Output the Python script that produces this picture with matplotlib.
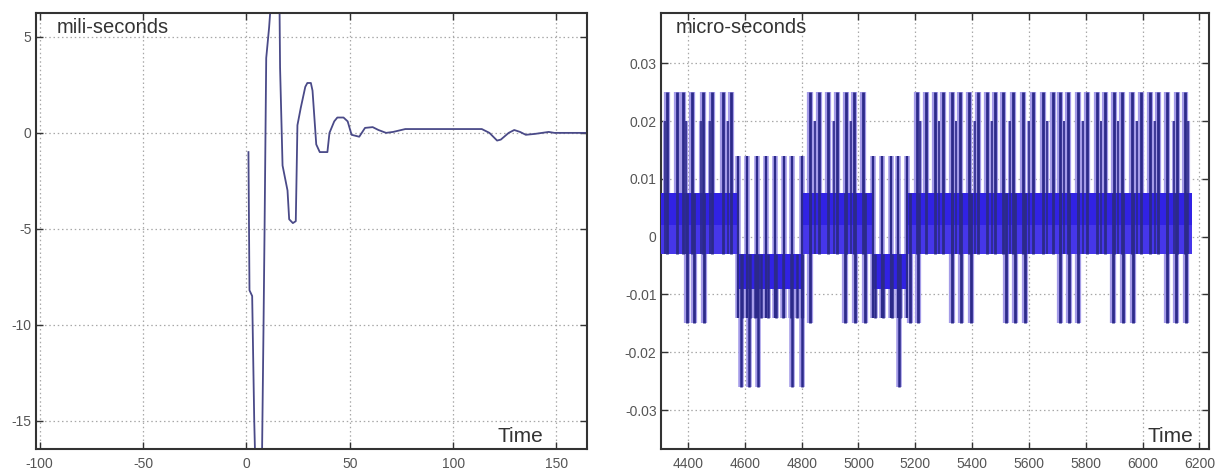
import matplotlib
matplotlib.use('Agg')
import matplotlib.pyplot as plt

plt.rcParams['font.family'] = ['Liberation Sans', 'DejaVu Sans']
plt.rcParams['axes.unicode_minus'] = False

# ---------------- left panel: mili-seconds ----------------
ms_time = [1.0, 1.5, 2.8, 3.8, 4.5, 5.5, 7.0, 7.6, 8.3, 8.8, 9.6, 11.0, 12.0, 14.0,
           16.0, 16.3, 17.5, 19.9, 20.7, 22.5, 23.9, 24.7, 26.3, 28.5, 29.5, 31.2, 32.0, 33.8,
           35.5, 39.2, 40.2, 42.5, 44.0, 47.0, 49.0, 50.9, 54.6, 57.4, 61.1, 63.9,
           67.6, 71.0, 76.9, 90.0, 113.9, 117.6, 121.3, 123.1, 126.9, 129.6, 132.4,
           135.2, 139.8, 146.3, 149.0, 166.0]
ms_value = [-1.0, -8.2, -8.5, -15.0, -18.0, -20.0, -19.0, -16.5, -10.0, -5.0, 3.9, 5.5, 7.0, 8.5,
            7.0, 3.4, -1.7, -3.0, -4.5, -4.7, -4.6, 0.4, 1.3, 2.4, 2.6, 2.6, 2.2, -0.6,
            -1.0, -1.0, 0.0, 0.6, 0.8, 0.8, 0.6, -0.1, -0.2, 0.26, 0.3, 0.15,
            0.0, 0.05, 0.2, 0.2, 0.2, 0.0, -0.4, -0.35, 0.0, 0.15, 0.05,
            -0.1, -0.05, 0.05, 0.0, 0.0]
ms_xticks = [-100, -50, 0, 50, 100, 150]
ms_yticks = [-15, -10, -5, 0, 5]
ms_yticklabels = ['-15', '-10', '-5', '0', '5']

# ---------------- right panel: micro-seconds ----------------
us_xticks = [4400, 4600, 4800, 5000, 5200, 5400, 5600, 5800, 6000, 6200]
us_yticks = [-0.03, -0.02, -0.01, 0.0, 0.01, 0.02, 0.03]
us_yticklabels = ['-0.03', '-0.02', '-0.01', '0', '0.01', '0.02', '0.03']

# upper band segments (signal toggling between -0.003 and 0.0075)
upper_band_start = [4306, 4806, 5172]
upper_band_end = [4579, 5047, 6173]
upper_band_low = -0.003
upper_band_mid = 0.002
upper_band_high = 0.0075
# lower band segments (signal toggling between -0.014 and -0.003)
lower_band_start = [4579, 5047]
lower_band_end = [4806, 5172]
lower_band_low = -0.014
lower_band_mid = -0.009
lower_band_high = -0.003

# pulses up to 0.025
up_pulse_t = [4325, 4360, 4384, 4414, 4452, 4486, 4522, 4552,
              4828, 4861, 4894, 4923, 4955, 4984, 5016,
              5205, 5238, 5270, 5299, 5328, 5358, 5390, 5422, 5452, 5481, 5510,
              5545, 5580, 5616, 5649, 5684, 5710, 5739, 5771, 5804, 5839, 5868,
              5898, 5927, 5962, 5994, 6027, 6056, 6085, 6121, 6150]
up_pulse_peak = 0.025
# secondary pulses up to 0.020
sec_pulse_t = [4318, 4394, 4447, 4476, 4540, 4847, 4913, 4974,
               5218, 5285, 5345, 5410, 5470, 5535, 5600, 5665, 5725,
               5790, 5855, 5915, 5980, 6045, 6110, 6160]
sec_pulse_peak = 0.020
# pulses in lower segments up to 0.014
mid_pulse_t = [4577, 4607, 4642, 4674, 4706, 4739, 4767, 4800,
               5052, 5082, 5114, 5140, 5170]
mid_pulse_peak = 0.014
# lines inside lower band reaching -0.014
low_line_t = [4590, 4617, 4636, 4657, 4683, 4709, 4735, 4762, 4782, 4800,
              5058, 5088, 5117, 5146]
# pulses down to -0.015
down_pulse_t = [4395, 4422, 4457, 4830, 4953, 4988, 5023, 5181, 5211,
                5328, 5360, 5395, 5519, 5551, 5587, 5710, 5742, 5774,
                5897, 5932, 5966, 6085, 6118, 6152]
down_pulse_min = -0.015
# pulses down to -0.026
deep_pulse_t = [4587, 4614, 4645, 4767, 4800, 5143]
deep_pulse_min = -0.026

fig = plt.figure(figsize=(12.22, 4.73), dpi=100)
ax1 = fig.add_axes([0.0291, 0.0507, 0.4516, 0.9224])
ax2 = fig.add_axes([0.5407, 0.0507, 0.4487, 0.9224])


def style(ax):
    ax.grid(True, linestyle=(0, (1.2, 2.2)), color='#a8a8a8', linewidth=0.9)
    ax.set_axisbelow(True)
    ax.tick_params(direction='in', top=True, right=True, length=5, width=1,
                   labelsize=10, labelcolor='#555555', color='#333333')
    ax.tick_params(axis='x', pad=6)
    ax.tick_params(axis='y', pad=3)
    for sp in ax.spines.values():
        sp.set_linewidth(1.5)
        sp.set_color('#333333')


# left
ax1.plot(ms_time, ms_value, color='#4a4a88', linewidth=1.3)
ax1.set_xlim(-102, 165)
ax1.set_ylim(-16.47, 6.26)
ax1.set_xticks(ms_xticks)
ax1.set_yticks(ms_yticks)
ax1.set_yticklabels(ms_yticklabels)
style(ax1)
ax1.text(0.038, 0.953, 'mili-seconds', transform=ax1.transAxes, fontsize=14.5,
         color='#333333', ha='left', va='baseline')
ax1.text(0.920, 0.017, 'Time', transform=ax1.transAxes, fontsize=15,
         color='#333333', ha='right', va='baseline')

# right
band_dark = '#3122e4'
band_mid = '#4636ea'
light = '#a49be8'
dark = '#2c2a8a'

# light halos (below the bands)
ax2.vlines(up_pulse_t, upper_band_low, up_pulse_peak, color=light, lw=4.5, zorder=2)
ax2.vlines(sec_pulse_t, upper_band_low, sec_pulse_peak, color=light, lw=3.0, zorder=2)
ax2.vlines(mid_pulse_t, lower_band_low, mid_pulse_peak, color=light, lw=4.0, zorder=2)
ax2.vlines(down_pulse_t, down_pulse_min, upper_band_high, color=light, lw=4.5, zorder=2)
ax2.vlines(deep_pulse_t, deep_pulse_min, lower_band_high, color=light, lw=4.0, zorder=2)
ax2.vlines(low_line_t, lower_band_low, lower_band_high, color=light, lw=4.0, zorder=2)

for s, e in zip(upper_band_start, upper_band_end):
    ax2.fill_between([s, e], upper_band_low, upper_band_high, color=band_mid, lw=0, zorder=3)
    ax2.fill_between([s, e], upper_band_mid, upper_band_high, color=band_dark, lw=0, zorder=3)
for s, e in zip(lower_band_start, lower_band_end):
    ax2.fill_between([s, e], lower_band_mid, lower_band_high, color=band_dark, lw=0, zorder=3)

# dark cores
ax2.vlines(up_pulse_t, upper_band_low, up_pulse_peak, color=dark, lw=2.0, zorder=4)
ax2.vlines(sec_pulse_t, upper_band_low, sec_pulse_peak, color=dark, lw=1.2, zorder=4)
ax2.vlines(mid_pulse_t, lower_band_low, mid_pulse_peak, color=dark, lw=1.6, zorder=4)
ax2.vlines(down_pulse_t, down_pulse_min, upper_band_high, color=dark, lw=2.0, zorder=4)
ax2.vlines(deep_pulse_t, deep_pulse_min, lower_band_high, color=dark, lw=1.8, zorder=4)
ax2.vlines(low_line_t, lower_band_low, lower_band_high, color=dark, lw=1.8, zorder=4)

ax2.set_xlim(4304, 6234)
ax2.set_ylim(-0.03675, 0.03875)
ax2.set_xticks(us_xticks)
ax2.set_yticks(us_yticks)
ax2.set_yticklabels(us_yticklabels)
style(ax2)
ax2.text(0.027, 0.953, 'micro-seconds', transform=ax2.transAxes, fontsize=14.5,
         color='#333333', ha='left', va='baseline')
ax2.text(0.972, 0.017, 'Time', transform=ax2.transAxes, fontsize=15,
         color='#333333', ha='right', va='baseline')

fig.savefig('out.png', dpi=100)
